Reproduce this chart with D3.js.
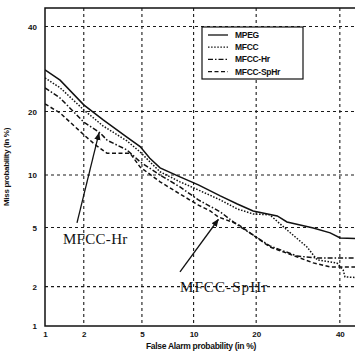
<!DOCTYPE html>
<html>
<head>
<meta charset="utf-8">
<script src="https://cdn.jsdelivr.net/npm/d3@7"></script>
<style>
  body { margin: 0; background: #fff; }
  svg { display: block; }
  text { font-family: "Liberation Sans", Arial, sans-serif; fill: #111; }
  text.note { font-family: "Liberation Serif", "Times New Roman", serif; }
</style>
</head>
<body>
<svg id="chart" width="355" height="357"></svg>
<script>
// DET curves, values in percent: [false alarm, miss]
const tickPct = [1, 2, 5, 10, 20, 40];
const seriesNames = ['MPEG', 'MFCC', 'MFCC-Hr', 'MFCC-SpHr'];
const mpeg = [[1, 29.0], [1.32, 26.6], [2.0, 21.3], [2.76, 18.4], [4.0, 15.4], [4.87, 13.9], [5.6, 12.2],
  [6.46, 10.9], [8.42, 9.77], [10.6, 8.85], [13.7, 7.69], [16.5, 6.92], [19.4, 6.3], [24.4, 5.88],
  [26.6, 5.41], [33.0, 4.97], [37.4, 4.63], [40.1, 4.30], [46, 4.24]];
const mfcc = [[1, 27.1], [1.32, 24.9], [2.0, 20.3], [2.76, 17.3], [4.0, 14.8], [4.87, 13.1], [5.6, 11.7],
  [6.46, 10.4], [8.42, 9.2], [10.6, 8.3], [13.7, 7.3], [16.5, 6.47], [19.4, 6.05], [22.8, 5.97],
  [26.6, 4.83], [31.4, 3.76], [34.0, 3.08], [39.2, 2.94], [40.9, 2.63], [41.4, 2.35], [46, 2.31]];
const mfccHr = [[1, 24.9], [1.32, 22.7], [2.0, 18.0], [2.63, 16.1], [2.94, 14.9], [4.0, 13.4], [4.87, 11.7],
  [6.46, 10.0], [8.42, 8.63], [10.6, 7.3], [13.7, 6.22], [16.5, 5.19], [22.8, 3.82], [29.0, 3.27],
  [34.0, 3.18], [46, 3.18]];
const mfccSpHr = [[1, 21.5], [1.32, 19.7], [2.0, 15.8], [2.42, 14.2], [2.94, 12.9], [4.2, 12.9], [4.87, 11.0],
  [6.46, 9.2], [8.42, 7.88], [10.6, 6.82], [12.2, 6.3], [13.4, 5.8], [16.5, 5.26], [22.8, 3.76],
  [33.0, 2.94], [37.4, 2.76], [46, 2.76]];
// annotations: [label, text pos (fa, miss), arrow start, arrow tip]
const notes = [
  ['MFCC-Hr', [1.39, 3.93], [1.78, 5.34], [2.58, 16.1]],
  ['MFCC-SpHr', [8.42, 1.83], [8.42, 2.55], [13.4, 5.6]]
];

// inverse normal cdf (Acklam)
function probit(p) {
  const a = [-39.69683028665376, 220.9460984245205, -275.9285104469687, 138.3577518672690, -30.66479806614716, 2.506628277459239];
  const b = [-54.47609879822406, 161.5858368580409, -155.6989798598866, 66.80131188771972, -13.28068155288572];
  const c = [-0.007784894002430293, -0.3223964580411365, -2.400758277161838, -2.549732539343734, 4.374664141464968, 2.938163982698783];
  const d = [0.007784695709041462, 0.3224671290700398, 2.445134137142996, 3.754408661907416];
  const pl = 0.02425;
  let q, r;
  if (p < pl) {
    q = Math.sqrt(-2 * Math.log(p));
    return (((((c[0]*q+c[1])*q+c[2])*q+c[3])*q+c[4])*q+c[5]) / ((((d[0]*q+d[1])*q+d[2])*q+d[3])*q+1);
  } else if (p <= 1 - pl) {
    q = p - 0.5; r = q * q;
    return (((((a[0]*r+a[1])*r+a[2])*r+a[3])*r+a[4])*r+a[5])*q / (((((b[0]*r+b[1])*r+b[2])*r+b[3])*r+b[4])*r+1);
  }
  q = Math.sqrt(-2 * Math.log(1 - p));
  return -(((((c[0]*q+c[1])*q+c[2])*q+c[3])*q+c[4])*q+c[5]) / ((((d[0]*q+d[1])*q+d[2])*q+d[3])*q+1);
}

const svg = d3.select('#chart');
const mLeft = 45, mTop = 8, mBottom = 326, mRight = 358;

const x = d3.scaleLinear().domain([probit(0.01), probit(0.45)]).range([mLeft, mRight]);
const y = d3.scaleLinear().domain([probit(0.01), probit(0.45)]).range([mBottom, mTop]);
const px = v => x(probit(v / 100));
const py = v => y(probit(v / 100));
const tickVals = tickPct.map(t => probit(t / 100));
const fmt = v => tickPct[tickVals.indexOf(v)];

// grid (dashed)
const grid = svg.append('g').attr('stroke', '#1a1a1a').attr('stroke-width', 1.1).attr('stroke-dasharray', '3,3');
grid.selectAll('line.v').data(tickPct.slice(1)).join('line').attr('class', 'v')
  .attr('x1', d => px(d)).attr('x2', d => px(d)).attr('y1', mTop).attr('y2', mBottom);
grid.selectAll('line.h').data(tickPct.slice(1)).join('line').attr('class', 'h')
  .attr('x1', mLeft).attr('x2', mRight).attr('y1', d => py(d)).attr('y2', d => py(d));

// frame
svg.append('rect').attr('x', mLeft).attr('y', mTop).attr('width', mRight - mLeft).attr('height', mBottom - mTop)
  .attr('fill', 'none').attr('stroke', '#111').attr('stroke-width', 1.5);

// axes labels
const xAxis = d3.axisBottom(x).tickValues(tickVals).tickSize(0).tickPadding(5).tickFormat(fmt);
const yAxis = d3.axisLeft(y).tickValues(tickVals).tickSize(0).tickPadding(8).tickFormat(fmt);
svg.append('g').attr('transform', 'translate(0,' + mBottom + ')').call(xAxis)
  .call(g => g.select('.domain').remove())
  .selectAll('text').attr('font-size', 8).attr('font-weight', 'bold');
svg.append('g').attr('transform', 'translate(' + mLeft + ',0)').call(yAxis)
  .call(g => g.select('.domain').remove())
  .selectAll('text').attr('font-size', 8).attr('font-weight', 'bold');

svg.append('text').attr('x', 201).attr('y', 349).attr('text-anchor', 'middle')
  .attr('font-size', 8.5).attr('font-weight', 'bold').attr('letter-spacing', -0.3)
  .text('False Alarm probability (in %)');
svg.append('text').attr('transform', 'translate(9,167) rotate(-90)').attr('text-anchor', 'middle')
  .attr('font-size', 8).attr('font-weight', 'bold').attr('letter-spacing', -0.3)
  .text('Miss probability (in %)');

// curves
svg.append('clipPath').attr('id', 'clip').append('rect')
  .attr('x', mLeft).attr('y', mTop).attr('width', mRight - mLeft).attr('height', mBottom - mTop);
const styles = ['none', '1.5,1.6', '5,2,1.5,2', '4,2.5'];
const series = [mpeg, mfcc, mfccHr, mfccSpHr];
const line = d3.line().x(d => px(d[0])).y(d => py(d[1]));
svg.append('g').attr('clip-path', 'url(#clip)').selectAll('path').data(series).join('path')
  .attr('d', line).attr('fill', 'none').attr('stroke', '#111').attr('stroke-width', 1.5)
  .attr('stroke-dasharray', (d, i) => styles[i]);

// legend
const lg = svg.append('g');
lg.append('rect').attr('x', 202).attr('y', 27).attr('width', 101).attr('height', 52)
  .attr('fill', '#fff').attr('stroke', '#111').attr('stroke-width', 1.2);
seriesNames.forEach((n, i) => {
  const yy = 35 + i * 12.2;
  lg.append('line').attr('x1', 208).attr('x2', 228).attr('y1', yy).attr('y2', yy)
    .attr('stroke', '#111').attr('stroke-width', 1.3).attr('stroke-dasharray', styles[i]);
  lg.append('text').attr('x', 235).attr('y', yy + 3).attr('font-size', 8.5).attr('font-weight', 'bold')
    .attr('letter-spacing', -0.3).text(n);
});

// annotations
svg.append('defs').append('marker').attr('id', 'head').attr('viewBox', '0 0 10 10')
  .attr('refX', 9).attr('refY', 5).attr('markerWidth', 6).attr('markerHeight', 6).attr('orient', 'auto')
  .append('path').attr('d', 'M0,1L10,5L0,9Z').attr('fill', '#111');
notes.forEach((nt, i) => {
  svg.append('line').attr('x1', px(nt[2][0])).attr('y1', py(nt[2][1]))
    .attr('x2', px(nt[3][0])).attr('y2', py(nt[3][1]))
    .attr('stroke', '#111').attr('stroke-width', 1.3).attr('marker-end', 'url(#head)');
  svg.append('text').attr('class', 'note').attr('x', px(nt[1][0])).attr('y', py(nt[1][1]))
    .attr('font-size', 15).attr('letter-spacing', i ? 1.1 : 0.3).text(nt[0]);
});
</script>
</body>
</html>
